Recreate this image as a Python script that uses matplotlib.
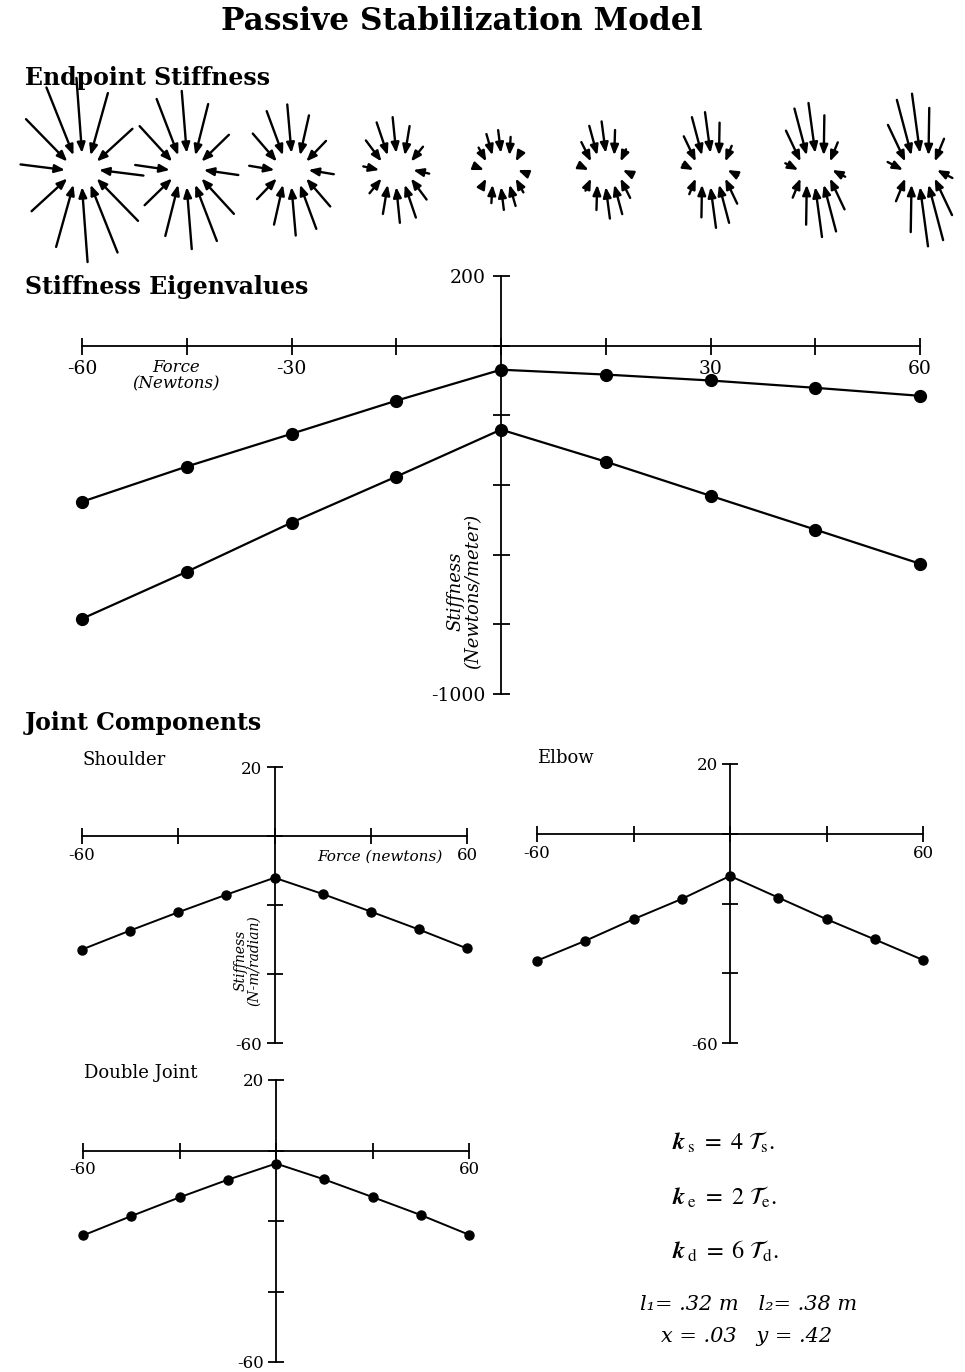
import matplotlib.pyplot as plt
import numpy as np

plt.rcParams["font.family"] = "DejaVu Serif"
plt.rcParams["mathtext.fontset"] = "cm"

W, H, DPI = 965, 1372, 100

# force levels (N) shared by every panel
force = [-60, -45, -30, -15, 0, 15, 30, 45, 60]

# endpoint stiffness eigenvalues (N/m)
eig_upper = [-448, -347, -253, -158, -69, -83, -100, -121, -144]
eig_lower = [-784, -649, -508, -376, -241, -333, -431, -528, -626]

# joint stiffness components (N-m/radian)
shoulder = [-32.9, -27.4, -22.1, -17.0, -12.1, -16.8, -21.9, -27.1, -32.6]
elbow = [-36.4, -30.7, -24.5, -18.7, -12.1, -18.3, -24.5, -30.3, -36.2]
double_joint = [-24.1, -18.6, -13.3, -8.3, -3.7, -8.2, -13.2, -18.3, -23.9]

# orientation of the stiff axis of each endpoint glyph (deg)
major_axis_deg = [100, 100, 100, 100, 100, 100, 100, 100, 100]

fig = plt.figure(figsize=(W / DPI, H / DPI), dpi=DPI)


def box(x0, y0, x1, y1):
    """Axes from a pixel box (top-left origin)."""
    return fig.add_axes([x0 / W, 1 - y1 / H, (x1 - x0) / W, (y1 - y0) / H])


def label(x, y, s, **kw):
    fig.text(x / W, 1 - y / H, s, **kw)


def cross(ax, ylim, yticks, ylabels, xticks, xlabels, tick_px, size, xpad, ypad):
    ax.set_xlim(-60, 60)
    ax.set_ylim(*ylim)
    ax.patch.set_visible(False)
    ax.spines[["top", "right"]].set_visible(False)
    for side in ("left", "bottom"):
        ax.spines[side].set_position(("data", 0))
        ax.spines[side].set_linewidth(1.3)
    ax.set_xticks(xticks, xlabels)
    ax.set_yticks(yticks, ylabels)
    ax.tick_params(direction="inout", length=tick_px * 72 / DPI, width=1.3,
                   labelsize=size)
    ax.tick_params(axis="x", pad=xpad)
    ax.tick_params(axis="y", pad=ypad)


# title and section headers
label(462, 22, "Passive Stabilization Model", ha="center", va="center",
      fontsize=22.5, fontweight="bold")
label(25, 78, "Endpoint Stiffness", ha="left", va="center", fontsize=17,
      fontweight="bold")
label(25, 287, "Stiffness Eigenvalues", ha="left", va="center", fontsize=17,
      fontweight="bold")
label(25, 723, "Joint Components", ha="left", va="center", fontsize=17,
      fontweight="bold")

# endpoint stiffness glyphs: restoring force for 12 unit displacements
ax_g = box(82, 60, 920, 280)
ax_g.set_xlim(-60, 60)
ppu = (920 - 82) / 120
half = (280 - 60) / 2 / ppu
ax_g.set_ylim(-half, half)
ax_g.axis("off")
R, S = 17, 0.097
for f, lo, hi, ang in zip(force, eig_upper, eig_lower, major_axis_deg):
    t = np.radians(ang)
    v1 = np.array([np.cos(t), np.sin(t)])
    v2 = np.array([-np.sin(t), np.cos(t)])
    K = abs(hi) * np.outer(v1, v1) + abs(lo) * np.outer(v2, v2)
    for a in np.radians(np.arange(0, 360, 30)):
        d = np.array([np.cos(a), np.sin(a)])
        tip = R * d
        tail = tip + S * (K @ d)
        ax_g.annotate("", xy=(f + tip[0] / ppu, tip[1] / ppu),
                      xytext=(f + tail[0] / ppu, tail[1] / ppu),
                      annotation_clip=False,
                      arrowprops=dict(arrowstyle="-|>,head_length=0.5,head_width=0.2",
                                      color="k", lw=1.7, mutation_scale=12,
                                      shrinkA=0, shrinkB=0))

# eigenvalue panel
ax_e = box(82, 276, 920, 694)
cross(ax_e, (-1000, 200),
      [200, 0, -200, -400, -600, -800, -1000],
      ["200", "", "", "", "", "", "-1000"],
      force, ["-60", "", "-30", "", "", "", "30", "", "60"],
      tick_px=17, size=13.5, xpad=4, ypad=5)
for vals in (eig_upper, eig_lower):
    ax_e.plot(force, vals, color="k", lw=1.6, marker="o", ms=8.5,
              clip_on=False, zorder=3)
ax_e.text(-46.5, -86, "Force\n(Newtons)", ha="center", va="center",
          fontsize=12, style="italic", linespacing=1.0)
ax_e.text(-5.3, -705, "Stiffness\n(Newtons/meter)", ha="center", va="center",
          rotation=90, fontsize=13, style="italic", linespacing=1.0,
          multialignment="center")

# joint panels
joint_ticks = [-60, -30, 0, 30, 60]
joint_xlabels = ["-60", "", "", "", "60"]
panels = [
    (shoulder, (82, 767, 467, 1043), "Shoulder", (82, 760)),
    (elbow, (537, 764, 923, 1043), "Elbow", (537, 758)),
    (double_joint, (83, 1080, 469, 1362), "Double Joint", (84, 1073)),
]
axes = []
for vals, (x0, y0, x1, y1), name, (tx, ty) in panels:
    ax = box(x0, y0, x1, y1)
    cross(ax, (-60, 20), [20, 0, -20, -40, -60], ["20", "", "", "", "-60"],
          joint_ticks, joint_xlabels, tick_px=16, size=12, xpad=2, ypad=3)
    ax.plot(force, vals, color="k", lw=1.4, marker="o", ms=6.5,
            clip_on=False, zorder=3)
    label(tx, ty, name, ha="left", va="center", fontsize=13)
    axes.append(ax)

axes[0].text(33, -6, "Force (newtons)", ha="center", va="center",
             fontsize=11, style="italic")
axes[0].text(-8.5, -36, "Stiffness\n(N-m/radian)", ha="center", va="center",
             rotation=90, fontsize=10, style="italic", linespacing=1.0)

# model parameters
params = dict(ha="left", va="center", fontsize=17.5, math_fontfamily="stix")
label(672, 1142, r"$\mathbfit{k}_{\,\mathrm{s}}\ =\ 4\ \mathcal{T}_{\mathrm{s}}.$", **params)
label(672, 1197, r"$\mathbfit{k}_{\,\mathrm{e}}\ =\ 2\ \mathcal{T}_{\mathrm{e}}.$", **params)
label(672, 1251, r"$\mathbfit{k}_{\,\mathrm{d}}\ =\ 6\ \mathcal{T}_{\mathrm{d}}.$", **params)
label(749, 1305, "l\u2081= .32 m   l\u2082= .38 m", ha="center", va="center",
      fontsize=15, style="italic")
label(747, 1337, "x = .03   y = .42", ha="center", va="center",
      fontsize=15, style="italic")

fig.savefig("out.png", dpi=DPI)
